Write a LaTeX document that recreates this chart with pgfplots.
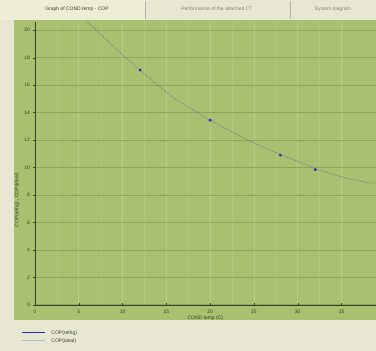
\documentclass[border=0pt]{standalone}
\usepackage{pgfplots}
\pgfplotsset{compat=1.18}
\usepackage{fontspec}
\setmainfont{Liberation Sans}
\definecolor{bgbeige}{RGB}{232,232,210}
\definecolor{tabact}{RGB}{238,238,214}
\definecolor{plotgreen}{RGB}{168,192,112}
\definecolor{gridh}{RGB}{140,165,92}
\definecolor{gridv}{RGB}{184,204,138}
\definecolor{txt}{RGB}{55,65,40}
\definecolor{refblue}{RGB}{50,40,170}
\definecolor{idealblue}{RGB}{170,190,225}
\definecolor{curve}{RGB}{110,125,150}
\begin{document}
\begin{tikzpicture}[x=1pt,y=1pt]
\fill[bgbeige] (0,0) rectangle (376,351);
\fill[tabact] (0,331) rectangle (145,351);
\draw[gray!60] (145,332) -- (145,350);
\draw[gray!60] (290,332) -- (290,350);
\node[font=\fontsize{5}{6}\selectfont,text=txt] at (77,342) {Graph of COND temp - COP};
\node[font=\fontsize{5}{6}\selectfont,text=gray] at (217,342) {Performance of the attached CT};
\node[font=\fontsize{5}{6}\selectfont,text=gray] at (333,342) {System diagram};
\fill[plotgreen] (14,31) rectangle (376,331);
\begin{axis}[
  at={(35pt,46pt)}, anchor=south west,
  scale only axis, width=341pt, height=283pt,
  xmin=0, xmax=38.9, ymin=0, ymax=20.6,
  axis lines=left, axis line style={draw=txt, line width=0.5pt, -},
  xtick={0,5,...,35}, ytick={0,2,...,20},
  minor x tick num=1,
  tick style={draw=txt}, minor tick length=0pt, major tick length=3pt,
  xmajorgrids, ymajorgrids, xminorgrids,
  major x grid style={draw=gridv, line width=0.6pt},
  minor x grid style={draw=gridv!50!plotgreen, line width=0.3pt},
  major y grid style={draw=gridh, line width=0.6pt},
  ticklabel style={font=\fontsize{5}{6}\selectfont, text=txt},
  /pgf/number format/assume math mode=true,
  xlabel={COND temp (C)}, ylabel={COP(refrig) , COP(ideal)},
  label style={font=\fontsize{5}{6}\selectfont, text=txt},
  xlabel style={yshift=4pt},
  ylabel style={at={(ticklabel cs:0.37)}, yshift=-2pt},
  clip=true,
]
\addplot[curve, densely dotted, line width=0.8pt] coordinates {
(6,20.6) (7,20.0) (8,19.4) (10,18.2) (12,17.1) (14,16.0) (16,15.0)
(18,14.2) (20,13.45) (22,12.75) (24,12.1) (26,11.5) (28,10.95)
(30,10.45) (32,9.9) (34,9.5) (36,9.15) (38,8.9) (38.9,8.85)};
\addplot[only marks, mark=*, mark size=1.3pt, refblue] coordinates {
(12,17.1) (20,13.45) (28,10.9) (32,9.84)};
\end{axis}
\draw[refblue, line width=1.2pt] (22,18) -- (45,18);
\draw[idealblue, line width=0.8pt] (22,10) -- (45,10);
\node[anchor=west, font=\fontsize{5}{6}\selectfont, text=txt] at (48,18) {COP(refrig)};
\node[anchor=west, font=\fontsize{5}{6}\selectfont, text=txt] at (48,10) {COP(ideal)};
\end{tikzpicture}
\end{document}
